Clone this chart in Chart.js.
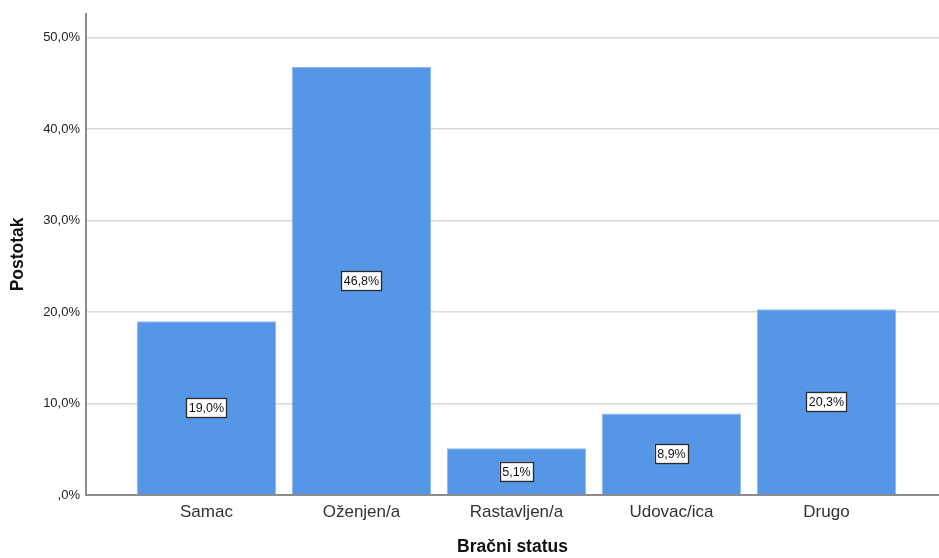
<!DOCTYPE html>
<html>
<head>
<meta charset="utf-8">
<script src="https://cdn.jsdelivr.net/npm/chart.js@4"></script>
<style>
  html, body { margin: 0; padding: 0; background: #fff; }
  #wrap { width: 939px; height: 558px; }
</style>
</head>
<body>
<div id="wrap"><canvas id="grafico"></canvas></div>
<script>
const kategorije = ["Samac", "Oženjen/a", "Rastavljen/a", "Udovac/ica", "Drugo"];
const postotci = [19.0, 46.8, 5.1, 8.9, 20.3];
const yTicks = [0, 10, 20, 30, 40, 50];

function fmt(v) {
    if (v === 0) return ",0%";
    return v.toFixed(1).replace(".", ",") + "%";
}

// oznake vrijednosti u sredini stupca
const oznake = {
    id: "oznake",
    afterDatasetsDraw(chart) {
        const ctx = chart.ctx;
        const meta = chart.getDatasetMeta(0);
        ctx.save();
        ctx.font = "12.5px 'Liberation Sans', Arial, sans-serif";
        ctx.textAlign = "center";
        ctx.textBaseline = "middle";
        meta.data.forEach((bar, i) => {
            const txt = fmt(postotci[i]);
            const w = ctx.measureText(txt).width + 5;
            const h = 19;
            const cy = (bar.y + bar.base) / 2;
            ctx.fillStyle = "#fff";
            ctx.fillRect(bar.x - w / 2, cy - h / 2, w, h);
            ctx.strokeStyle = "#2a2a2a";
            ctx.lineWidth = 1.3;
            ctx.strokeRect(Math.round(bar.x - w / 2) + 0.5, Math.round(cy - h / 2) + 0.5, Math.round(w), h);
            ctx.fillStyle = "#111";
            ctx.fillText(txt, bar.x, cy + 1);
        });
        ctx.restore();
    }
};

new Chart(document.getElementById("grafico"), {
    type: "bar",
    data: {
        datasets: [{
            data: postotci.map((v, i) => ({ x: i, y: v })),
            backgroundColor: "#5596e6",
            borderColor: "#8fb9ee",
            borderWidth: 1,
            barPercentage: 0.9,
            categoryPercentage: 1.0
        }]
    },
    options: {
        responsive: true,
        maintainAspectRatio: false,
        animation: false,
        layout: { padding: { top: 12, right: 0, left: 0, bottom: 0 } },
        plugins: { legend: { display: false }, tooltip: { enabled: false } },
        scales: {
            x: {
                type: "linear",
                offset: false,
                min: -0.777,
                max: 4.726,
                afterFit: (s) => { s.height = 63; },
                afterBuildTicks: (s) => { s.ticks = kategorije.map((k, i) => ({ value: i })); },
                ticks: {
                    callback: (v) => kategorije[v] || "",
                    color: "#333",
                    font: { family: "'Liberation Sans', Arial, sans-serif", size: 17 },
                    padding: 7,
                    maxRotation: 0,
                    autoSkip: false
                },
                grid: { display: false, drawTicks: false, offset: false },
                border: { display: true, color: "#8c8c8c", width: 2 },
                title: {
                    display: true,
                    text: "Bračni status",
                    color: "#111",
                    font: { family: "'Liberation Sans', Arial, sans-serif", size: 17.5, weight: "bold" },
                    padding: { top: 0, bottom: 0 }
                }
            },
            y: {
                min: 0,
                max: 52.6,
                afterFit: (s) => { s.width = 86; },
                afterBuildTicks: (s) => { s.ticks = yTicks.map((v) => ({ value: v })); },
                ticks: {
                    callback: (v) => fmt(v),
                    color: "#222",
                    font: { family: "'Liberation Sans', Arial, sans-serif", size: 13 },
                    padding: 6
                },
                grid: { color: "#d9d9d9", lineWidth: 1.5, drawTicks: false },
                border: { display: true, color: "#8c8c8c", width: 2 },
                title: {
                    display: true,
                    text: "Postotak",
                    color: "#111",
                    font: { family: "'Liberation Sans', Arial, sans-serif", size: 17.5, weight: "bold" },
                    padding: { top: 8, bottom: 0 }
                }
            }
        }
    },
    plugins: [oznake]
});
</script>
</body>
</html>
